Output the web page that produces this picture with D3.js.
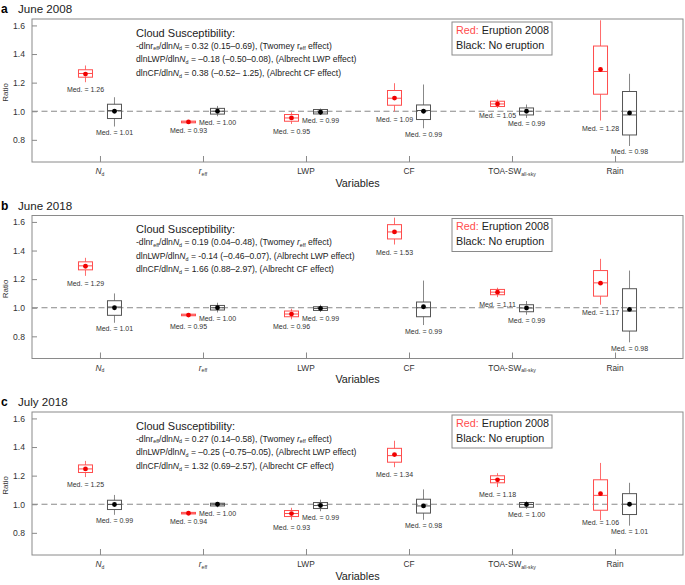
<!DOCTYPE html>
<html>
<head>
<meta charset="utf-8">
<script src="https://cdn.jsdelivr.net/npm/d3@7"></script>
<style>
  body { margin: 0; background: #fff; }
  text { font-family: "Liberation Sans", Arial, sans-serif; }
</style>
</head>
<body>
<svg id="chart" width="685" height="585"></svg>
<script>
// categories on the x axis
const variables = ["Nd", "reff", "LWP", "CF", "TOA", "Rain"];
const yTicks = [0.8, 1.0, 1.2, 1.4, 1.6];

// boxes: [lower whisker, q1, median, q3, upper whisker, mean]
const june2008Red = [
  [1.203, 1.238, 1.264, 1.29, 1.32, 1.26],
  [0.917, 0.919, 0.925, 0.931, 0.933, 0.925],
  [0.911, 0.93, 0.953, 0.977, 0.993, 0.953],
  [0.998, 1.042, 1.091, 1.145, 1.196, 1.092],
  [1.023, 1.033, 1.051, 1.07, 1.082, 1.051],
  [0.935, 1.119, 1.278, 1.456, 1.636, 1.292]
];
const june2008Black = [
  [0.893, 0.949, 1.005, 1.049, 1.098, 1.0],
  [0.965, 0.98, 1.0, 1.02, 1.037, 1.0],
  [0.974, 0.981, 0.995, 1.012, 1.019, 0.993],
  [0.881, 0.942, 1.005, 1.044, 1.187, 1.0],
  [0.953, 0.974, 1.0, 1.023, 1.047, 1.0],
  [0.757, 0.834, 0.974, 1.138, 1.262, 0.988]
];
const june2018Red = [
  [1.223, 1.265, 1.293, 1.321, 1.349, 1.29],
  [0.943, 0.944, 0.949, 0.955, 0.956, 0.949],
  [0.919, 0.937, 0.956, 0.977, 0.993, 0.956],
  [1.442, 1.481, 1.53, 1.581, 1.63, 1.53],
  [1.074, 1.091, 1.109, 1.128, 1.14, 1.109],
  [1.021, 1.081, 1.174, 1.26, 1.342, 1.172]
];
const june2018Black = [
  [0.895, 0.947, 1.005, 1.049, 1.1, 1.0],
  [0.967, 0.984, 1.0, 1.016, 1.035, 1.0],
  [0.97, 0.981, 0.995, 1.007, 1.021, 0.995],
  [0.879, 0.937, 1.0, 1.04, 1.19, 1.007],
  [0.951, 0.972, 0.998, 1.021, 1.047, 0.998],
  [0.758, 0.837, 0.977, 1.133, 1.26, 0.988]
];
const july2018Red = [
  [1.19, 1.222, 1.247, 1.275, 1.303, 1.247],
  [0.931, 0.932, 0.937, 0.943, 0.944, 0.937],
  [0.891, 0.914, 0.935, 0.956, 0.975, 0.935],
  [1.259, 1.294, 1.34, 1.391, 1.444, 1.347],
  [1.12, 1.15, 1.173, 1.199, 1.217, 1.171],
  [0.889, 0.958, 1.062, 1.171, 1.289, 1.074]
];
const july2018Black = [
  [0.926, 0.963, 0.998, 1.028, 1.065, 0.998],
  [0.979, 0.988, 1.0, 1.007, 1.016, 1.0],
  [0.951, 0.97, 0.991, 1.012, 1.032, 0.991],
  [0.891, 0.938, 0.988, 1.035, 1.104, 0.988],
  [0.968, 0.979, 0.998, 1.012, 1.021, 0.998],
  [0.85, 0.928, 1.0, 1.074, 1.15, 1.0]
];

// printed median labels
const medJune2008Red = ["1.26", "0.93", "0.95", "1.09", "1.05", "1.28"];
const medJune2008Black = ["1.01", "1.00", "0.99", "0.99", "0.99", "0.98"];
const medJune2018Red = ["1.29", "0.95", "0.96", "1.53", "1.11", "1.17"];
const medJune2018Black = ["1.01", "1.00", "0.99", "0.99", "0.99", "0.98"];
const medJuly2018Red = ["1.25", "0.94", "0.93", "1.34", "1.18", "1.06"];
const medJuly2018Black = ["0.99", "1.00", "0.99", "0.98", "1.00", "1.01"];

// susceptibility values: [twomey, albrecht LWP, albrecht CF]
const suscJune2008 = ["0.32 (0.15\u20130.69)", "\u20130.18 (\u20130.50\u20130.08)", "0.38 (\u20130.52\u2013 1.25)"];
const suscJune2018 = ["0.19 (0.04\u20130.48)", "-0.14 (\u20130.46\u20130.07)", "1.66 (0.88\u20132.97)"];
const suscJuly2018 = ["0.27 (0.14\u20130.58)", "\u20130.25 (\u20130.75\u20130.05)", "1.32 (0.69\u20132.57)"];

const panelLetters = ["a", "b", "c"];
const panelTitles = ["June 2008", "June 2018", "July 2018"];

const svg = d3.select("#chart");
const left = 32, right = 683, plotH = 143;
const panelTops = [19, 215.5, 412];
const RED = "#ff4d4d", RED_DOT = "#f00000";

const x = d3.scalePoint().domain(variables).range([left, right]).padding(0.66);
const y = d3.scaleLinear().domain([0.645, 1.645]).range([plotH, 0]);

// write a text made of [string, style] parts; style: "i" italic, "s" subscript
function richText(sel, parts, size) {
  let shift = 0;
  parts.forEach(([str, st]) => {
    const t = sel.append("tspan").text(str);
    if (st === "i") t.attr("font-style", "italic");
    if (st === "s") {
      t.attr("font-size", size * 0.62).attr("dy", size * 0.22);
      shift += size * 0.22;
    } else if (shift) {
      t.attr("dy", -shift);
      shift = 0;
    }
  });
}

const xLabels = {
  Nd: [["N", "i"], ["d", "s"]],
  reff: [["r", "i"], ["eff", "s"]],
  LWP: [["LWP", ""]],
  CF: [["CF", ""]],
  TOA: [["TOA-SW", ""], ["all-sky", "s"]],
  Rain: [["Rain", ""]]
};

function drawBoxes(g, data, meds, dx, stroke, whisk, dot, labelY) {
  const grp = g.append("g");
  const bw = 14;
  data.forEach((d, i) => {
    const cx = x(variables[i]) + dx;
    const [lo, q1, med, q3, hi, mean] = d;
    grp.append("line").attr("x1", cx).attr("x2", cx).attr("y1", y(hi)).attr("y2", y(q3))
      .attr("stroke", whisk).attr("stroke-width", 1);
    grp.append("line").attr("x1", cx).attr("x2", cx).attr("y1", y(q1)).attr("y2", y(lo))
      .attr("stroke", whisk).attr("stroke-width", 1);
    grp.append("rect").attr("x", cx - bw / 2).attr("y", y(q3))
      .attr("width", bw).attr("height", Math.max(0.5, y(q1) - y(q3)))
      .attr("fill", "none").attr("stroke", stroke).attr("stroke-width", 1);
    grp.append("line").attr("x1", cx - bw / 2).attr("x2", cx + bw / 2)
      .attr("y1", y(med)).attr("y2", y(med)).attr("stroke", stroke).attr("stroke-width", 1);
    grp.append("circle").attr("cx", cx).attr("cy", y(mean)).attr("r", 2.4).attr("fill", dot);
    grp.append("text").attr("x", cx).attr("y", labelY[i])
      .attr("text-anchor", "middle").attr("font-size", 7).attr("fill", "#333")
      .text("Med. = " + meds[i]);
  });
}

const panelRed = [june2008Red, june2018Red, july2018Red];
const panelBlack = [june2008Black, june2018Black, july2018Black];
const panelMedRed = [medJune2008Red, medJune2018Red, medJuly2018Red];
const panelMedBlack = [medJune2008Black, medJune2018Black, medJuly2018Black];
const panelSusc = [suscJune2008, suscJune2018, suscJuly2018];

panelTops.forEach((top, p) => {
  const g = svg.append("g").attr("transform", `translate(0,${top})`);

  // title
  g.append("text").attr("x", 1).attr("y", -6).attr("font-size", 12).attr("font-weight", "bold")
    .text(panelLetters[p]);
  g.append("text").attr("x", 18).attr("y", -6).attr("font-size", 11.6).attr("fill", "#222")
    .text(panelTitles[p]);

  // reference line
  g.append("line").attr("x1", left).attr("x2", right).attr("y1", y(1)).attr("y2", y(1))
    .attr("stroke", "#888").attr("stroke-width", 1).attr("stroke-dasharray", "6,3.5");

  // frame
  g.append("rect").attr("x", left).attr("y", 0).attr("width", right - left).attr("height", plotH)
    .attr("fill", "none").attr("stroke", "#8a8a8a").attr("stroke-width", 1);

  // y axis
  const ya = g.append("g").attr("transform", `translate(${left},0)`)
    .call(d3.axisLeft(y).tickValues(yTicks).tickFormat(d3.format(".1f")).tickSize(-5).tickPadding(7));
  ya.select(".domain").remove();
  ya.selectAll("line").attr("stroke", "#8a8a8a");
  ya.selectAll("text").attr("font-size", 8.6).attr("fill", "#333")
    .attr("font-family", "Liberation Sans, Arial, sans-serif");

  // x axis ticks (inward)
  const xa = g.append("g").attr("transform", `translate(0,${plotH})`)
    .call(d3.axisBottom(x).tickSize(-6).tickFormat(""));
  xa.select(".domain").remove();
  xa.selectAll("line").attr("stroke", "#8a8a8a");
  variables.forEach((v) => {
    const t = g.append("text").attr("x", x(v)).attr("y", plotH + 12)
      .attr("text-anchor", "middle").attr("font-size", 8.3).attr("fill", "#333");
    richText(t, xLabels[v], 8.3);
  });

  g.append("text").attr("x", (left + right) / 2).attr("y", plotH + 24.5)
    .attr("text-anchor", "middle").attr("font-size", 10.8).attr("fill", "#222").text("Variables");
  g.append("text").attr("transform", `translate(8,${plotH / 2 + 2}) rotate(-90)`)
    .attr("text-anchor", "middle").attr("font-size", 8).attr("fill", "#333").text("Ratio");

  // annotation
  const ax = 136;
  g.append("text").attr("x", ax).attr("y", 17.7).attr("font-size", 11).attr("fill", "#222")
    .text("Cloud Susceptibility:");
  const s = panelSusc[p];
  const rEffStyle = p === 0 ? "" : "i";
  const lines = [
    [["-dlnr", ""], ["eff", "s"], ["/dln", ""], ["N", "i"], ["d", "s"], [" = " + s[0] + ", (Twomey ", ""],
      ["r", rEffStyle], ["eff", "s"], [" effect)", ""]],
    [["dlnLWP/dln", ""], ["N", "i"], ["d", "s"], [" = " + s[1] + ", (Albrecht LWP effect)", ""]],
    [["dlnCF/dln", ""], ["N", "i"], ["d", "s"], [" = " + s[2] + ", (Albrecht CF effect)", ""]]
  ];
  const lineY = [29.5, 43.3, 56.7];
  lines.forEach((parts, i) => {
    const t = g.append("text").attr("x", ax).attr("y", lineY[i]).attr("font-size", 8.6).attr("fill", "#222");
    richText(t, parts, 8.6);
  });

  // legend
  g.append("rect").attr("x", 452).attr("y", 3).attr("width", 100).attr("height", 33)
    .attr("fill", "#fff").attr("stroke", "#8a8a8a").attr("stroke-width", 1);
  const l1 = g.append("text").attr("x", 456).attr("y", 14.5).attr("font-size", 10.8).attr("fill", "#222");
  l1.append("tspan").attr("fill", RED).text("Red:");
  l1.append("tspan").text(" Eruption 2008");
  g.append("text").attr("x", 456).attr("y", 29.5).attr("font-size", 10.8).attr("fill", "#222")
    .text("Black: No eruption");

  // median label baselines under the lower whiskers, nudged apart when the pair collides
  const redData = panelRed[p], blackData = panelBlack[p];
  const redLab = redData.map((d) => y(d[0]) + 10);
  const blackLab = blackData.map((d) => y(d[0]) + 8.5);
  redLab.forEach((ry, i) => {
    const diff = ry - blackLab[i];
    if (Math.abs(diff) < 8) redLab[i] = diff > 0 ? blackLab[i] + 8.5 : blackLab[i] - 9;
  });

  drawBoxes(g, redData, panelMedRed[p], -14.5, RED, "#ff6b6b", RED_DOT, redLab);
  drawBoxes(g, blackData, panelMedBlack[p], 14.5, "#555", "#888", "#000", blackLab);
});
</script>
</body>
</html>
